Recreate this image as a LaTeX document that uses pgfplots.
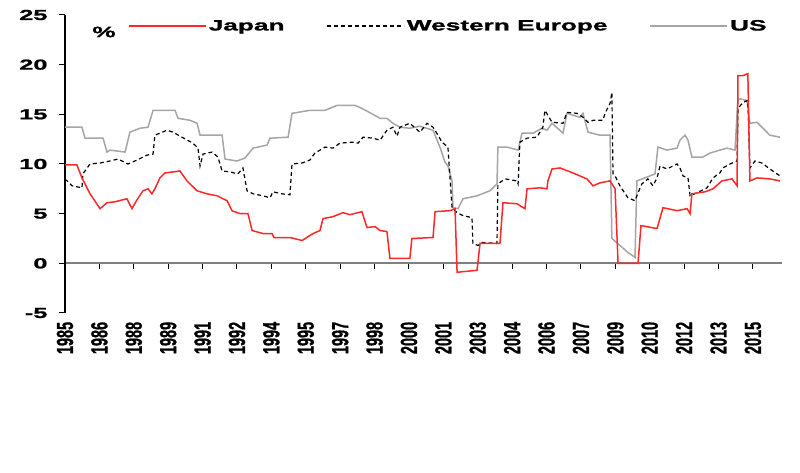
\documentclass[border=0pt]{standalone}
\usepackage{fontspec}
\setmainfont{Liberation Sans}[FakeStretch=1.75, BoldFeatures={FakeBold=1.2}]
\newfontfamily\plainfont{Liberation Sans}[BoldFeatures={FakeBold=1.2}]
\usepackage{graphicx}
\usepackage{pgfplots}
\pgfplotsset{compat=1.18}
\newcommand\xl[1]{\scalebox{1}[1.6]{#1}}
\definecolor{jred}{RGB}{255,40,40}
\definecolor{usgray}{RGB}{165,165,165}
\definecolor{axgray}{RGB}{128,128,128}
\begin{document}
\begin{tikzpicture}
\useasboundingbox (0,0) rectangle (800pt,473pt);
\begin{axis}[
  at={(65pt,160pt)}, anchor=south west,
  scale only axis, width=717pt, height=298pt,
  xmin=1985, xmax=2016.27, ymin=-5, ymax=25,
  axis y line=left, axis x line=middle,
  hide obscured x ticks=false, hide obscured y ticks=false,
  y axis line style={black, line width=1.5pt, -},
  x axis line style={axgray, line width=2pt, -},
  tick align=outside, major tick length=6pt,
  xtick style={black, line width=1pt},
  ytick style={black, line width=1pt},
  ytick={-5,0,5,10,15,20,25},
  yticklabels={-5,0,5,10,15,20,25},
  yticklabel style={font=\bfseries\fontsize{14.5}{15}\selectfont, xshift=-8pt},
  xtick={1985,1986.5,1988,1989.5,1991,1992.5,1994,1995.5,1997,1998.5,2000,2001.5,2003,2004.5,2006,2007.5,2009,2010.5,2012,2013.5,2015},
  xticklabels={\xl{1985},\xl{1986},\xl{1988},\xl{1989},\xl{1991},\xl{1992},\xl{1994},\xl{1995},\xl{1997},\xl{1998},\xl{2000},\xl{2001},\xl{2003},\xl{2004},\xl{2006},\xl{2007},\xl{2009},\xl{2010},\xl{2012},\xl{2013},\xl{2015}},
  xticklabel style={font=\plainfont\bfseries\fontsize{14.5}{15}\selectfont, rotate=90, anchor=east},
  xticklabel shift=49pt,
  legend columns=3,
  reverse legend,
  legend style={at={(0.0879,0.963)}, anchor=west, draw=none, fill=none, inner sep=0pt,
    font=\bfseries\fontsize{15}{15}\selectfont,
    /tikz/every even column/.append style={column sep=40pt}},
  legend image code/.code={\draw[#1] (0pt,0pt) -- (77pt,0pt);},
]
\addplot[usgray, line width=1.5pt] coordinates {
(1985.00,13.7)(1985.74,13.7)(1985.87,12.6)(1986.66,12.6)(1986.83,11.2)(1986.96,11.4)(1987.62,11.2)(1987.83,13.2)(1988.27,13.6)(1988.62,13.7)(1988.84,15.4)(1989.80,15.4)(1989.93,14.6)(1990.45,14.4)(1990.76,14.1)(1990.89,12.9)(1991.85,12.9)(1991.98,10.5)(1992.50,10.3)(1992.85,10.6)(1993.20,11.6)(1993.81,11.9)(1993.94,12.6)(1994.73,12.7)(1994.90,15.1)(1995.68,15.4)(1996.34,15.4)(1996.86,15.9)(1997.65,15.9)(1997.95,15.6)(1998.74,14.6)(1999.04,14.6)(1999.30,14.1)(1999.61,13.7)(2000.04,13.6)(2000.48,13.8)(2001.05,13.4)(2001.35,11.7)(2001.57,10.2)(2001.70,9.8)(2001.88,8.3)(2001.92,5.6)(2002.14,5.5)(2002.36,6.5)(2002.97,6.8)(2003.53,7.3)(2003.84,8.0)(2003.88,11.7)(2004.28,11.7)(2004.76,11.4)(2004.93,13.1)(2005.41,13.1)(2005.80,13.6)(2006.02,13.4)(2006.24,14.1)(2006.72,13.1)(2006.89,15.1)(2007.46,14.7)(2007.59,15.1)(2007.81,13.2)(2008.33,12.9)(2008.77,12.9)(2008.85,2.5)(2009.20,1.8)(2009.55,1.1)(2009.86,0.6)(2009.94,8.3)(2010.29,8.6)(2010.73,9.0)(2010.86,11.7)(2011.25,11.4)(2011.69,11.6)(2011.82,12.4)(2012.04,12.9)(2012.17,12.4)(2012.34,10.7)(2012.82,10.7)(2013.13,11.1)(2013.56,11.4)(2013.87,11.6)(2014.22,11.4)(2014.35,16.6)(2014.74,16.4)(2014.87,14.1)(2015.18,14.2)(2015.74,12.9)(2016.18,12.7)
};
\addlegendentry{US}
\addplot[black, line width=1.2pt, dash pattern=on 4pt off 3pt] coordinates {
(1985.00,8.5)(1985.31,7.8)(1985.74,7.6)(1985.78,9.0)(1986.09,10.0)(1986.53,10.1)(1986.96,10.3)(1987.31,10.5)(1987.75,10.0)(1988.14,10.4)(1988.58,10.9)(1988.84,11.0)(1988.92,12.9)(1989.45,13.4)(1989.71,13.2)(1990.10,12.7)(1990.58,12.1)(1990.80,11.6)(1990.89,9.8)(1991.02,11.0)(1991.41,11.2)(1991.67,10.7)(1991.85,9.3)(1992.20,9.2)(1992.54,9.0)(1992.76,9.6)(1992.94,7.3)(1993.20,7.0)(1993.63,6.8)(1993.94,6.6)(1994.07,7.2)(1994.46,7.0)(1994.81,6.9)(1994.90,10.0)(1995.34,10.1)(1995.68,10.4)(1995.90,11.1)(1996.34,11.7)(1996.69,11.6)(1996.99,12.1)(1997.56,12.2)(1997.78,12.1)(1998.00,12.7)(1998.43,12.6)(1998.74,12.4)(1999.04,13.4)(1999.30,13.7)(1999.48,12.8)(1999.61,13.7)(2000.04,14.1)(2000.48,13.2)(2000.79,14.1)(2001.05,13.7)(2001.27,12.9)(2001.44,12.2)(2001.70,11.7)(2001.88,5.6)(2002.10,5.1)(2002.36,4.8)(2002.75,4.6)(2002.79,2.0)(2003.01,1.8)(2003.19,2.1)(2003.84,2.0)(2003.88,8.0)(2004.19,8.5)(2004.71,8.3)(2004.76,8.0)(2004.84,12.2)(2005.15,12.6)(2005.58,12.7)(2005.84,13.7)(2005.93,15.4)(2006.06,14.9)(2006.24,14.2)(2006.72,14.1)(2006.89,15.2)(2007.33,15.1)(2007.59,14.7)(2007.81,14.2)(2008.03,14.4)(2008.46,14.4)(2008.55,15.1)(2008.77,16.1)(2008.85,17.2)(2008.90,9.0)(2008.99,8.8)(2009.20,7.8)(2009.55,6.6)(2009.86,6.3)(2009.99,7.1)(2010.16,8.0)(2010.42,8.5)(2010.64,7.8)(2010.82,8.6)(2010.95,9.8)(2011.25,9.5)(2011.69,10.0)(2011.82,9.6)(2011.95,8.8)(2012.17,8.6)(2012.26,6.8)(2012.56,7.1)(2013.00,7.6)(2013.26,8.6)(2013.56,9.1)(2013.69,9.6)(2014.00,10.0)(2014.31,10.3)(2014.35,15.6)(2014.57,16.2)(2014.78,16.4)(2014.87,9.6)(2015.09,10.3)(2015.39,10.1)(2015.74,9.5)(2016.18,8.8)
};
\addlegendentry{Western Europe}
\addplot[jred, line width=1.5pt] coordinates {
(1985.00,9.9)(1985.52,9.9)(1985.74,8.6)(1986.09,7.0)(1986.53,5.5)(1986.83,6.1)(1987.18,6.2)(1987.70,6.5)(1987.92,5.5)(1988.14,6.4)(1988.40,7.3)(1988.62,7.5)(1988.79,7.0)(1988.92,7.5)(1989.14,8.6)(1989.36,9.1)(1989.71,9.2)(1990.01,9.3)(1990.32,8.3)(1990.76,7.3)(1991.19,7.0)(1991.63,6.8)(1992.07,6.3)(1992.28,5.3)(1992.63,5.0)(1992.98,5.0)(1993.16,3.3)(1993.63,3.0)(1994.03,3.0)(1994.11,2.6)(1994.81,2.6)(1995.34,2.3)(1995.82,3.0)(1996.12,3.3)(1996.25,4.5)(1996.69,4.7)(1997.12,5.1)(1997.43,4.9)(1997.95,5.2)(1998.17,3.6)(1998.52,3.7)(1998.74,3.3)(1999.04,3.2)(1999.17,0.5)(2000.04,0.5)(2000.13,2.5)(2001.05,2.6)(2001.14,5.2)(2001.79,5.3)(2002.01,5.5)(2002.10,-0.9)(2002.97,-0.7)(2003.10,2.0)(2003.97,2.0)(2004.10,6.1)(2004.71,6.0)(2005.06,5.5)(2005.15,7.5)(2005.72,7.6)(2006.02,7.5)(2006.06,8.3)(2006.24,9.5)(2006.59,9.6)(2007.15,9.1)(2007.76,8.5)(2008.03,7.8)(2008.33,8.1)(2008.77,8.3)(2008.99,7.5)(2009.12,0)(2009.99,0)(2010.12,3.8)(2010.82,3.5)(2011.08,5.6)(2011.69,5.3)(2012.13,5.5)(2012.26,5.0)(2012.34,7.0)(2012.91,7.2)(2013.26,7.5)(2013.65,8.3)(2014.09,8.5)(2014.31,7.8)(2014.35,18.9)(2014.57,18.9)(2014.78,19.1)(2014.87,8.3)(2015.18,8.6)(2015.74,8.5)(2016.18,8.3)
};
\addlegendentry{Japan}
\end{axis}
\node[font=\bfseries\fontsize{15}{15}\selectfont] at (104pt,441pt) {\%};
\end{tikzpicture}
\end{document}
